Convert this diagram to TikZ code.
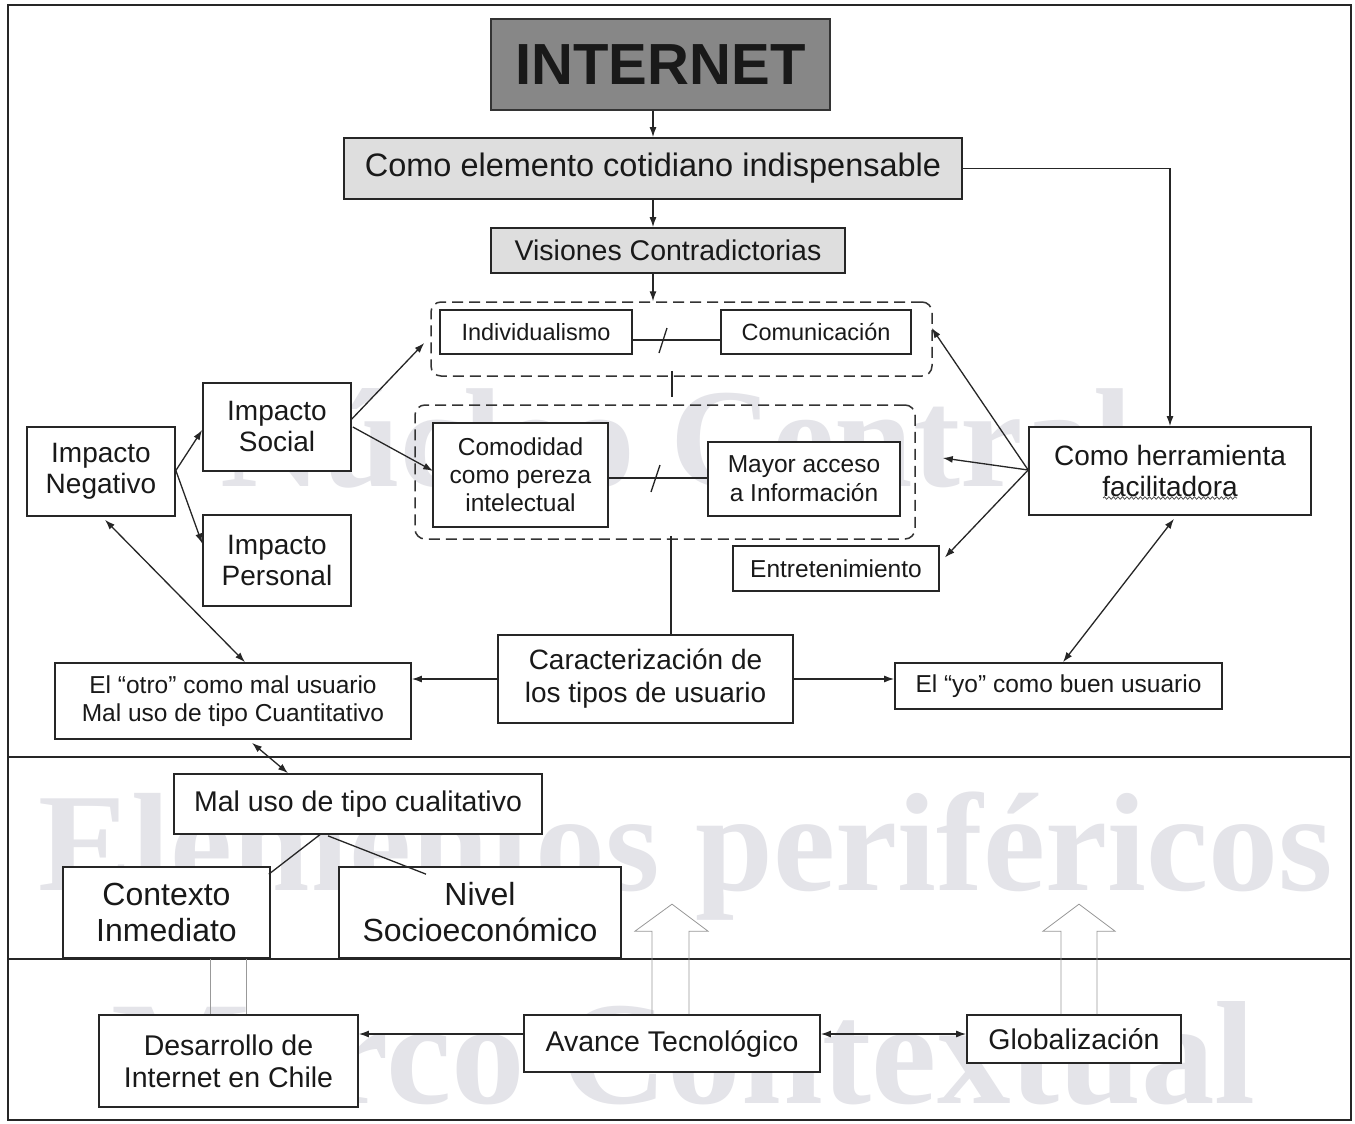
\documentclass[tikz,border=0pt]{standalone}
\usepackage{fontspec}
\setmainfont{Liberation Sans}
\newfontfamily\wmfont{Liberation Serif}
\usetikzlibrary{arrows.meta,calc,decorations.pathmorphing}
\definecolor{wmgray}{RGB}{228,228,233}
\begin{document}
\begin{tikzpicture}[x=1pt,y=-1pt,
  box/.style={draw=black!85, line width=1.7pt, fill=white, inner sep=0pt, align=center, text=black!90},
  grp/.style={draw=black!80, line width=1.5pt, dash pattern=on 11pt off 6pt, rounded corners=10pt, inner sep=0pt},
  arr/.style={line width=1.3pt, draw=black!85, -{Latex[length=10pt,width=7pt]}},
  darr/.style={line width=1.3pt, draw=black!85, {Latex[length=10pt,width=7pt]}-{Latex[length=10pt,width=7pt]}},
  ln/.style={line width=1.3pt, draw=black!85},
  hollow/.style={draw=black!40, line width=0.8pt},
  wm/.style={text=wmgray, inner sep=0pt, anchor=base west},
  fA/.style={font=\fontsize{23.5}{26}\selectfont},
  fB/.style={font=\fontsize{24.5}{29}\selectfont},
  fC/.style={font=\fontsize{28}{31}\selectfont},
  fD/.style={font=\fontsize{28.5}{32}\selectfont},
  fE/.style={font=\fontsize{32}{36}\selectfont}
]
\useasboundingbox (0,0) rectangle (1355,1124);
\fill[white] (0,0) rectangle (1355,1124);

% watermarks
\node[wm, font=\wmfont\bfseries\fontsize{141}{141}\selectfont] (wm1) at (220,486) {Núcleo Central};
\node[wm, font=\wmfont\bfseries\fontsize{140}{140}\selectfont] (wm2) at (38,890) {Elementos periféricos};
\node[wm, font=\wmfont\bfseries\fontsize{147}{147}\selectfont] (wm3) at (111,1103) {Marco Contextual};

% frame
\draw[line width=1.8pt, black!85] (8,5) rectangle (1351,1120);
\draw[line width=1.8pt, black!85] (8,757) -- (1351,757);
\draw[line width=1.8pt, black!85] (8,959) -- (1351,959);

% groups
\node[grp, minimum width=501pt, minimum height=74pt] (g1) at (681.5,339) {};
\node[grp, minimum width=500pt, minimum height=134pt] (g2) at (665,472) {};

% nodes
\node[box, fill=black!47, draw=black!80, minimum width=339pt, minimum height=91pt, font=\fontsize{58}{60}\selectfont\bfseries] (internet) at (660.5,64.5) {INTERNET};
\node[box, fill=black!13, minimum width=618pt, minimum height=61pt, font=\fontsize{32.5}{36}\selectfont] (cot) at (653,168.5) {Como elemento cotidiano indispensable};
\node[box, fill=black!13, minimum width=354pt, minimum height=45pt, fD] (vis) at (668,250.5) {Visiones Contradictorias};
\node[box, fA, minimum width=192pt, minimum height=44pt] (ind) at (536,332) {Individualismo};
\node[box, fA, minimum width=190pt, minimum height=44pt] (com) at (816,332) {Comunicación};
\node[box, fB, font=\fontsize{24.5}{28}\selectfont, minimum width=175pt, minimum height=104pt] (comod) at (520.5,475) {Comodidad\\como pereza\\intelectual};
\node[box, fB, minimum width=192pt, minimum height=74pt] (mayor) at (804,479) {Mayor acceso\\a Información};
\node[box, fC, minimum width=148pt, minimum height=89pt] (neg) at (101,471.5) {Impacto\\Negativo};
\node[box, fC, minimum width=148pt, minimum height=88pt] (soc) at (277,427) {Impacto\\Social};
\node[box, fC, minimum width=148pt, minimum height=91pt] (per) at (277,560.5) {Impacto\\Personal};
\node[box, fC, minimum width=282pt, minimum height=88pt] (herr) at (1170,471) {Como herramienta\\facilitadora};
\node[box, fB, minimum width=206pt, minimum height=45pt] (ent) at (836,568.5) {Entretenimiento};
\node[box, fC, font=\fontsize{28}{33}\selectfont, minimum width=295pt, minimum height=88pt] (car) at (645.5,679) {Caracterización de\\los tipos de usuario};
\node[box, fB, font=\fontsize{24.5}{28}\selectfont, minimum width=356pt, minimum height=76pt] (otro) at (233,701) {El “otro” como mal usuario\\Mal uso de tipo Cuantitativo};
\node[box, fB, minimum width=327pt, minimum height=46pt] (yo) at (1058.5,686) {El “yo” como buen usuario};
\node[box, fD, minimum width=368pt, minimum height=60pt] (cual) at (358,804) {Mal uso de tipo cualitativo};
\node[box, fE, minimum width=207pt, minimum height=91pt] (ctx) at (166.5,912.5) {Contexto\\Inmediato};
\node[box, fE, minimum width=282pt, minimum height=91pt] (niv) at (480,912.5) {Nivel\\Socioeconómico};
\node[box, fD, minimum width=259pt, minimum height=92pt] (des) at (228.5,1061) {Desarrollo de\\Internet en Chile};
\node[box, fD, minimum width=296pt, minimum height=57pt] (ava) at (672,1043.5) {Avance Tecnológico};
\node[box, fD, minimum width=214pt, minimum height=48pt] (glo) at (1074,1039) {Globalización};

% wavy underline
\draw[black!75, line width=0.7pt, decorate, decoration={snake, amplitude=1.3pt, segment length=4.5pt}] ($(herr.center)+(-67,27)$) -- ++(134,0);

% hollow block arrows
\draw[hollow] ($(ava.north)+(-20,0)$) -- ++(0,-83) -- ++(-17,0) -- ++(37,-27) -- ++(36,27) -- ++(-19,0) -- ++(0,83);
\draw[hollow] ($(glo.north)+(-13,0)$) -- ++(0,-83) -- ++(-18,0) -- ++(36,-27) -- ++(36,27) -- ++(-18,0) -- ++(0,83);
\draw[hollow] ($(des.north)+(-18.5,0)$) -- ($(ctx.south)+(43.5,0)$);
\draw[hollow] ($(des.north)+(17.5,0)$) -- ($(ctx.south)+(79.5,0)$);

% connectors
\draw[arr] (internet.south -| cot.north) -- (cot.north);
\draw[arr] (cot.south) -- (cot.south |- vis.north);
\draw[arr] (cot.south |- vis.south) -- (cot.south |- g1.north);
\draw[arr] (cot.east) -| (herr.north);
\draw[arr] ($(neg.east)+(0,-1)$) -- ($(soc.west)+(0,3)$);
\draw[arr] ($(neg.east)+(0,-1)$) -- ($(per.west)+(0,-17)$);
\draw[arr] ($(soc.east)+(0,-8)$) -- ($(g1.west)+(-6,4)$);
\draw[arr] ($(soc.east)+(1,0)$) -- ($(comod.west)+(1,-4)$);
\coordinate (hs) at ($(herr.west)+(0,-1)$);
\coordinate (mtip) at ($(g2.east)+(27,-14)$);
\draw[arr] (hs) -- ($(g1.east)+(-1,-11)$);
\draw[arr] (hs) -- (mtip);
\draw[arr] (hs) -- ($(ent.east)+(5,-11)$);
\draw[arr] (car.west) -- (car.west -| otro.east);
\draw[arr] (car.east) -- (car.east -| yo.west);
\draw[darr] ($(neg.south)+(4,3)$) -- ($(otro.north)+(12,0)$);
\draw[darr] ($(herr.south)+(4,3)$) -- ($(yo.north)+(4.5,0)$);
\draw[darr] ($(otro.south)+(19,3)$) -- ($(cual.north)+(-70,0)$);
\draw[ln] ($(cual.south)+(-37,-1)$) -- ($(ctx.north east)+(-2,8)$);
\draw[ln] ($(cual.south)+(-30,1)$) -- ($(niv.north)+(-54,8)$);
\draw[ln] ($(g1.south)+(-9.5,-6)$) -- ($(g2.north)+(7,-7)$);
\coordinate (vt) at ($(g2.south)+(6,0)$);
\draw[ln] ($(vt)+(0,-4)$) -- (vt |- car.north);
\draw[ln] ($(ind.east)+(0,8)$) -- ($(com.west)+(0,8)$);
\draw[ln] ($(comod.east)+(0,3)$) -- ($(mayor.west)+(0,-1)$);
\draw[ln] (667,328) -- (659,353);
\draw[ln] (660,465) -- (651,492);
\draw[arr] ($(ava.west)+(0,-9.5)$) -- ($(des.east)+(0,-27)$);
\draw[darr] ($(ava.east)+(0,-9.5)$) -- ($(glo.west)+(0,-5)$);
\end{tikzpicture}
\end{document}
